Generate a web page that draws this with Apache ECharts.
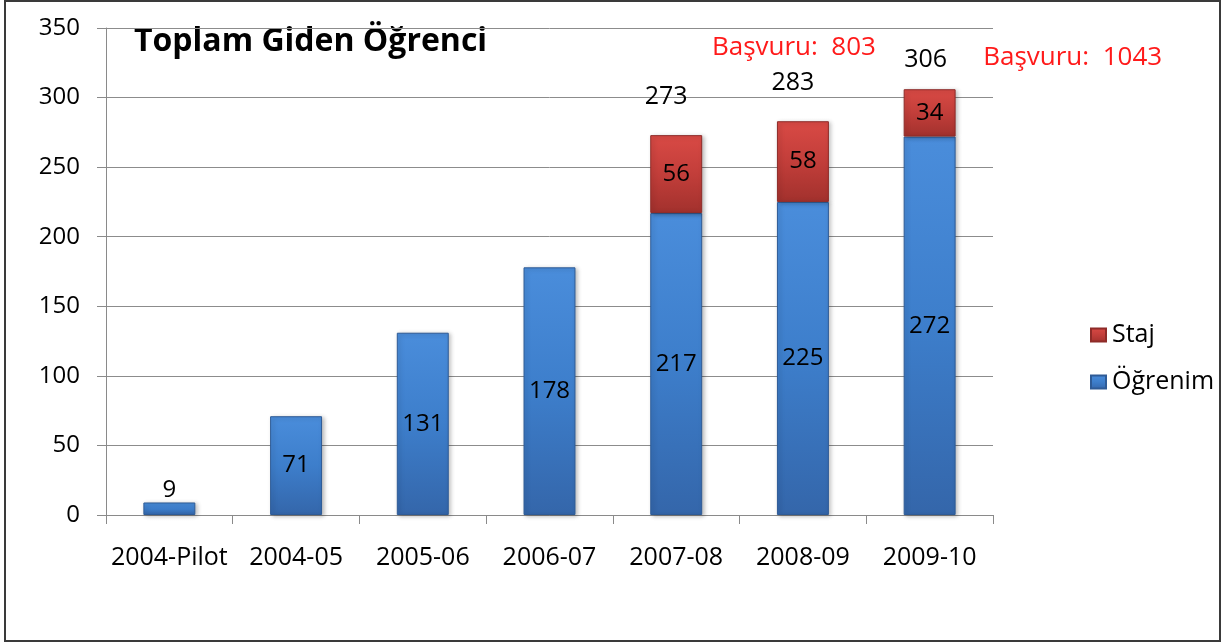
<!DOCTYPE html>
<html><head><meta charset="utf-8">
<script src="https://cdn.jsdelivr.net/npm/echarts@6/dist/echarts.min.js"></script>
<style>html,body{margin:0;padding:0;background:#fff}#c{width:1223px;height:644px}</style>
</head><body><div id="c"></div>
<script>
const categories = ['2004-Pilot','2004-05','2005-06','2006-07','2007-08','2008-09','2009-10'];
const ogrenim = [9, 71, 131, 178, 217, 225, 272];
const staj = [null, null, null, null, 56, 58, 34];
const totals = [null, null, null, null, 273, 283, 306];
const basvuru = [null, null, null, null, null, 803, 1043];
const yTicks = [0, 50, 100, 150, 200, 250, 300, 350];

const FONT = '"Open Sans", Lato, sans-serif';
const chart = echarts.init(document.getElementById('c'), null, {renderer: 'canvas'});

function grad(top, mid, bot) {
  return new echarts.graphic.LinearGradient(0, 0, 0, 1, [
    {offset: 0, color: top}, {offset: 0.5, color: mid}, {offset: 1, color: bot}
  ]);
}

// per-item nudges for the total labels (placement only)
const totalOffsets = {4: [-10, 0], 5: [-10, 0], 6: [-4, 9]};

const option = {
  animation: false,
  backgroundColor: '#fff',
  textStyle: {fontFamily: FONT},
  grid: {left: 106, right: 230, top: 28, bottom: 129, containLabel: false},
  legend: {
    orient: 'vertical', left: 1085, top: 317,
    data: ['Staj', 'Öğrenim'],
    itemWidth: 15, itemHeight: 13, itemGap: 21,
    icon: 'rect',
    textStyle: {fontFamily: FONT, fontSize: 25, lineHeight: 26, color: '#000', padding: [0, 0, 0, 1]}
  },
  xAxis: {
    type: 'category', data: categories,
    axisLine: {lineStyle: {color: '#8a8a8a', width: 1}},
    axisTick: {show: true, length: 9, lineStyle: {color: '#8a8a8a'}},
    axisLabel: {fontFamily: FONT, fontSize: 25, color: '#000', margin: 30, interval: 0, hideOverlap: false}
  },
  yAxis: {
    type: 'value', min: 0, max: 350, interval: 50,
    axisLine: {show: true, lineStyle: {color: '#8a8a8a'}},
    axisTick: {show: true, length: 9, lineStyle: {color: '#8a8a8a'}},
    splitLine: {lineStyle: {color: '#8c8c8c', width: 1}},
    axisLabel: {fontFamily: FONT, fontSize: 24, color: '#000', margin: 26}
  },
  series: [
    {
      name: 'Öğrenim', type: 'bar', stack: 't', barWidth: '41%',
      data: ogrenim.map((v, i) => ({
        value: v,
        label: i === 0 ? {position: 'top', distance: 0} : undefined
      })),
      itemStyle: {
        color: grad('#4a8ddb', '#3d7ecb', '#3466aa'),
        borderColor: '#2e5b96', borderWidth: 1,
        shadowColor: 'rgba(0,0,0,0.25)', shadowBlur: 4, shadowOffsetX: 2, shadowOffsetY: 1
      },
      label: {show: true, position: 'inside', fontFamily: FONT, fontSize: 24, color: '#000'}
    },
    {
      name: 'Staj', type: 'bar', stack: 't', barWidth: '41%',
      data: staj,
      itemStyle: {
        color: grad('#d94a45', '#c23e3a', '#a2312d'),
        borderColor: '#8e2b28', borderWidth: 1,
        shadowColor: 'rgba(0,0,0,0.25)', shadowBlur: 4, shadowOffsetX: 2, shadowOffsetY: 1
      },
      label: {show: true, position: 'inside', fontFamily: FONT, fontSize: 24, color: '#000'}
    },
    {
      name: 'Toplam', type: 'bar', stack: 't', barWidth: '41%',
      data: totals.map((v, i) => v == null ? null : {
        value: 0,
        label: {offset: totalOffsets[i] || [0, 0]}
      }),
      itemStyle: {color: 'transparent'},
      label: {
        show: true, position: 'top', distance: 26,
        fontFamily: FONT, fontSize: 25, color: '#000',
        formatter: p => totals[p.dataIndex] == null ? '' : String(totals[p.dataIndex])
      }
    }
  ],
  graphic: []
};
chart.setOption(option);

// Başvuru annotations, positioned from the library's scales
const basvuruOffsets = {5: [-9, -74], 6: [143, -32]};
const g = [];
basvuru.forEach((v, i) => {
  if (v == null) return;
  const p = chart.convertToPixel({xAxisIndex: 0, yAxisIndex: 0}, [i, totals[i]]);
  const off = basvuruOffsets[i];
  g.push({
    type: 'text', x: p[0] + off[0], y: p[1] + off[1],
    style: {text: 'Başvuru:  ' + v, fill: '#ff1a1a', font: '26px ' + FONT, textAlign: 'center', textVerticalAlign: 'middle'}
  });
});
g.push({
  type: 'text', x: 134, y: 42,
  style: {text: 'Toplam Giden Öğrenci', fill: '#000', font: 'bold 32px ' + FONT, textVerticalAlign: 'middle'}
});
g.push({
  type: 'rect', shape: {x: 5, y: 1, width: 1215, height: 640},
  style: {fill: 'none', stroke: '#3a3a3a', lineWidth: 2}, silent: true
});
chart.setOption({graphic: g});
</script></body></html>
